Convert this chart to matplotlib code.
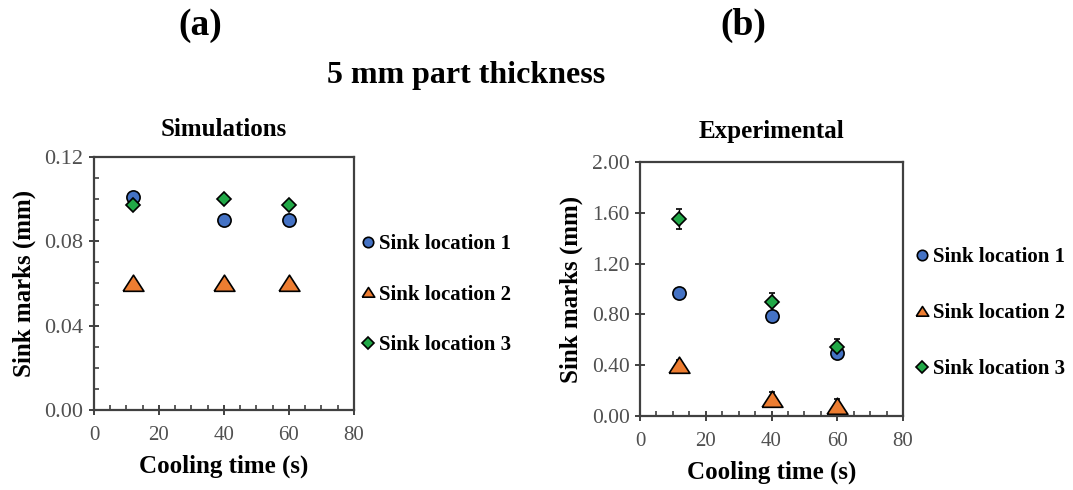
import matplotlib
matplotlib.use("Agg")
import matplotlib.pyplot as plt
from matplotlib.ticker import MultipleLocator, FormatStrFormatter
from matplotlib.lines import Line2D

plt.rcParams['font.family'] = ['Liberation Serif', 'DejaVu Serif']

cooling_time = [12, 40, 60]
labels = ["Sink location 1", "Sink location 2", "Sink location 3"]

sim_loc1 = [0.101, 0.090, 0.090]
sim_loc2 = [0.060, 0.060, 0.060]
sim_loc3 = [0.097, 0.100, 0.097]

exp_loc1 = [0.97, 0.79, 0.50]
exp_loc2 = [0.40, 0.13, 0.08]
exp_loc3 = [1.55, 0.90, 0.54]
exp_err1 = [0.03, 0.03, 0.03]
exp_err2 = [0.04, 0.06, 0.05]
exp_err3 = [0.08, 0.07, 0.07]

colors = ['#4472C4', '#ED7D31', '#21A847']
tri = [(-1.0, -0.75), (1.0, -0.75), (0.0, 0.8), (-1.0, -0.75)]
markers = ['o', tri, 'D']
msizes = [9.5, 15, 7.5]
leg_sizes = [7.5, 9, 6]

fig = plt.figure(figsize=(10.73, 4.90), dpi=100)

ax1 = fig.add_axes([0.0876, 0.1633, 0.2423, 0.5163])
ax2 = fig.add_axes([0.5965, 0.1510, 0.2451, 0.5184])

spine_col = '#404040'
tick_col = '#404040'

def style(ax, ymax, ymaj, ymin, fmt, ysize):
    ax.set_xlim(0, 80)
    ax.set_ylim(0, ymax)
    ax.xaxis.set_major_locator(MultipleLocator(20))
    ax.xaxis.set_minor_locator(MultipleLocator(5))
    ax.yaxis.set_major_locator(MultipleLocator(ymaj))
    if ymin:
        ax.yaxis.set_minor_locator(MultipleLocator(ymin))
    ax.yaxis.set_major_formatter(FormatStrFormatter(fmt))
    for s in ax.spines.values():
        s.set_color(spine_col)
        s.set_linewidth(1.6)
    ax.tick_params(axis='both', which='major', direction='inout', length=7, width=1.4,
                   color=tick_col, labelcolor='#505050')
    ax.tick_params(axis='x', which='major', labelsize=15, pad=8)
    ax.tick_params(axis='y', which='major', labelsize=ysize, pad=4)
    ax.tick_params(axis='both', which='minor', direction='in', length=3.5, width=1.2,
                   color=tick_col)
    ax.set_xlabel("Cooling time (s)", fontsize=18, fontweight='bold', labelpad=7)
    ax.set_ylabel("Sink marks (mm)", fontsize=18, fontweight='bold', labelpad=6)

sims = [sim_loc1, sim_loc2, sim_loc3]
for vals, c, m, ms, lab in zip(sims, colors, markers, msizes, labels):
    ax1.plot(cooling_time, vals, linestyle='none', marker=m, markersize=ms,
             markerfacecolor=c, markeredgecolor='black', markeredgewidth=1.2)
style(ax1, 0.12, 0.04, 0.01, '%.2f', 16)
ax1.set_title("Simulations", fontsize=18, fontweight='bold', pad=15)

exps = [exp_loc1, exp_loc2, exp_loc3]
errs = [exp_err1, exp_err2, exp_err3]
for vals, e, c, m, ms in zip(exps, errs, colors, markers, msizes):
    ax2.errorbar(cooling_time, vals, yerr=e, linestyle='none', marker=m, markersize=ms,
                 markerfacecolor=c, markeredgecolor='black', markeredgewidth=1.2,
                 ecolor='black', elinewidth=1.0, capsize=2.5)
style(ax2, 2.0, 0.4, None, '%.2f', 15.5)
ax2.set_title("Experimental", fontsize=18, fontweight='bold', pad=17)

def make_legend(ax, bbox, spacing):
    hs = [Line2D([], [], linestyle='none', marker=m, markersize=s, markerfacecolor=c,
                 markeredgecolor='black', markeredgewidth=1.2)
          for m, s, c in zip(markers, leg_sizes, colors)]
    leg = ax.legend(hs, labels, loc='center left', bbox_to_anchor=bbox, frameon=False,
                    handlelength=0.6, handletextpad=0.2, labelspacing=spacing,
                    borderaxespad=0, borderpad=0,
                    prop={'family': 'Liberation Serif', 'weight': 'bold', 'size': 15})
    return leg

make_legend(ax1, (1.031, 0.456), 1.45)
make_legend(ax2, (1.049, 0.405), 1.72)

fig.text(0.187, 0.929, "(a)", fontsize=27, fontweight='bold', ha='center', va='baseline')
fig.text(0.693, 0.929, "(b)", fontsize=27, fontweight='bold', ha='center', va='baseline')
fig.text(0.434, 0.830, "5 mm part thickness", fontsize=23, fontweight='bold',
         ha='center', va='baseline')

fig.savefig("out.png", dpi=100)
